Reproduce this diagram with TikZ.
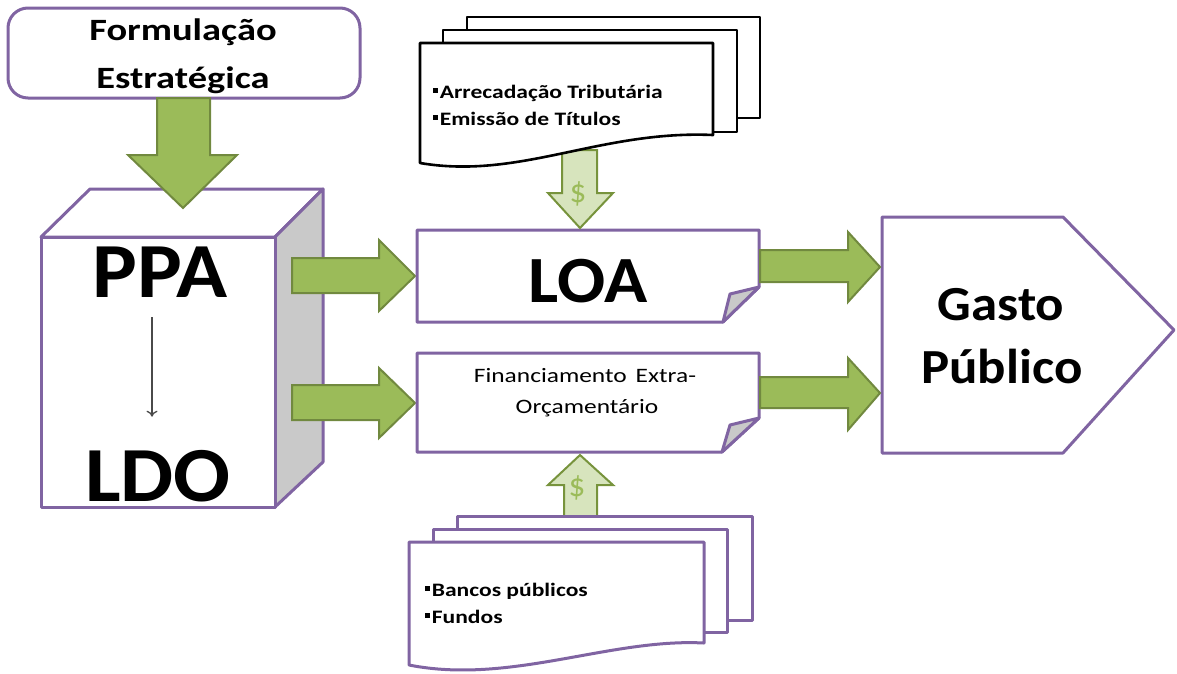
\documentclass[tikz,border=0pt]{standalone}
\usepackage{fontspec}
\usetikzlibrary{arrows.meta}
\setmainfont{Carlito}
\newfontfamily\widebig[FakeStretch=1.08]{Carlito}
\newfontfamily\widesmall[FakeStretch=1.24]{Carlito}
\definecolor{frame}{HTML}{8064A2}
\definecolor{arrowfill}{HTML}{9BBB59}
\definecolor{arrowline}{HTML}{71893F}
\definecolor{cashfill}{HTML}{D7E4BD}
\definecolor{cashline}{HTML}{77933C}
\definecolor{cashsign}{HTML}{9BBB59}
\definecolor{sideface}{HTML}{C9C9C9}
\definecolor{thinarrow}{HTML}{4A4A4A}

\tikzset{
  framed/.style={draw=frame, line width=3pt, line join=round},
  blockarrow/.style={fill=arrowfill, draw=arrowline, line width=2pt, line join=miter},
  casharrow/.style={fill=cashfill, draw=cashline, line width=2pt, line join=miter},
  blackpage/.style={fill=white, draw=black, line width=2.6pt, line join=round},
  purplepage/.style={fill=white, draw=frame, line width=3pt, line join=round},
  label/.style={inner sep=0pt, anchor=base},
  item/.style={inner sep=0pt, anchor=base west, font=\widesmall\bfseries\fontsize{19}{20}\selectfont},
  cash/.style={inner sep=0pt, text=cashsign, font=\fontsize{33}{33}\selectfont},
}

\newcommand{\itembullet}{\rule[0.26em]{0.27em}{0.27em}\hspace{1.5pt}}

\begin{document}
\begin{tikzpicture}[x=1pt,y=-1pt]
\useasboundingbox (0,0) rectangle (1177,673);

% --- strategic formulation box
\draw[framed, rounded corners=20pt, fill=white] (8,8) rectangle (360,98);
\node[label, font=\widesmall\bfseries\fontsize{31}{31}\selectfont] (form1) at (183,40) {Formulação};
\node[label, font=\widesmall\bfseries\fontsize{31}{31}\selectfont] (form2) at (183,88) {Estratégica};

% --- PPA / LDO block (3D box)
\draw[framed, fill=white] (41,237) -- (90,189) -- (323,189) -- (275,237) -- cycle;
\draw[framed, fill=sideface] (275,237) -- (323,189) -- (323,462) -- (275,507) -- cycle;
\draw[framed, fill=white] (41,237) rectangle (275,507);

% big arrow from the formulation down onto the block
\draw[blockarrow] (157,98) -- (210,98) -- (210,155) -- (237,155) -- (183,208)
  -- (128,155) -- (157,155) -- cycle;

\node[label, font=\widebig\bfseries\fontsize{78}{78}\selectfont] (ppa) at (160,297) {PPA};
\node[label, font=\widebig\bfseries\fontsize{78}{78}\selectfont] (ldo) at (158,501) {LDO};
\draw[thinarrow, line width=1.3pt, -{To[length=6pt,width=11pt]}, shorten <=20pt, shorten >=33pt]
  ([xshift=-8pt]ppa.south) -- ([xshift=-8pt]ppa.south |- ldo.north);

% --- arrows from the block to the budget laws
\draw[blockarrow] (292,258) -- (379,258) -- (379,240) -- (415,276) -- (379,311)
  -- (379,293) -- (292,293) -- cycle;
\draw[blockarrow] (292,385) -- (379,385) -- (379,368) -- (415,403) -- (379,438)
  -- (379,420) -- (292,420) -- cycle;

% --- LOA
\draw[framed, fill=white] (417,230) -- (759,230) -- (759,287) -- (723,322) -- (417,322) -- cycle;
\draw[framed, fill=sideface] (759,287) -- (730,294) -- (723,322) -- cycle;
\node[label, font=\widebig\bfseries\fontsize{66}{66}\selectfont] (loa) at (588,302) {LOA};

% --- extra-budget financing
\draw[framed, fill=white] (417,353) -- (759,353) -- (759,418) -- (722,452) -- (417,452) -- cycle;
\draw[framed, fill=sideface] (759,418) -- (730,425) -- (722,452) -- cycle;
\node[label, font=\widesmall\fontsize{20.5}{20}\selectfont] (fin1) at (585,382) {Financiamento\hspace{9pt}Extra-};
\node[label, font=\widesmall\fontsize{20.5}{20}\selectfont] (fin2) at (587,413) {Orçamentário};

% --- public spending
\draw[framed, fill=white] (882,217) -- (1063,217) -- (1174,330) -- (1063,453) -- (882,453) -- cycle;
\node[label, font=\widebig\bfseries\fontsize{49}{49}\selectfont] (gasto1) at (1001,320) {Gasto};
\node[label, font=\widebig\bfseries\fontsize{49}{49}\selectfont] (gasto2) at (1002,383) {Público};

% --- arrows into public spending
\draw[blockarrow] (760,250) -- (848,250) -- (848,232) -- (880,267) -- (848,302)
  -- (848,282) -- (760,282) -- cycle;
\draw[blockarrow] (760,377) -- (848,377) -- (848,358) -- (880,393) -- (848,430)
  -- (848,408) -- (760,408) -- cycle;

% --- revenue sources (top stack) and their money arrow
\draw[casharrow] (562,150) -- (597,150) -- (597,193) -- (613,193) -- (580,228)
  -- (548,193) -- (562,193) -- cycle;
\node[cash] (cash1) at (578,194) {\$};
\draw[blackpage] (467,17) rectangle (760,118);
\draw[blackpage] (443,30) rectangle (737,132);
\draw[blackpage] (420,43) -- (713,43) -- (713,135) .. controls (600,130) and (520,180) .. (420,163) -- cycle;
\node[item] (rev1) at (433,98) {\itembullet Arrecadação Tributária};
\node[item] (rev2) at (433,125) {\itembullet Emissão de Títulos};

% --- financing sources (bottom stack) and their money arrow
\draw[casharrow] (564,530) -- (564,485) -- (548,485) -- (580,455) -- (613,485)
  -- (597,485) -- (597,530) -- cycle;
\node[cash] (cash2) at (577,488) {\$};
\draw[purplepage] (457,516) rectangle (752,620);
\draw[purplepage] (433,529) rectangle (727,632);
\draw[purplepage] (409,542) -- (704,542) -- (704,643) .. controls (610,638) and (510,685) .. (409,665) -- cycle;
\node[item] (src1) at (425,596) {\itembullet Bancos públicos};
\node[item] (src2) at (425,623) {\itembullet Fundos};

\end{tikzpicture}
\end{document}
